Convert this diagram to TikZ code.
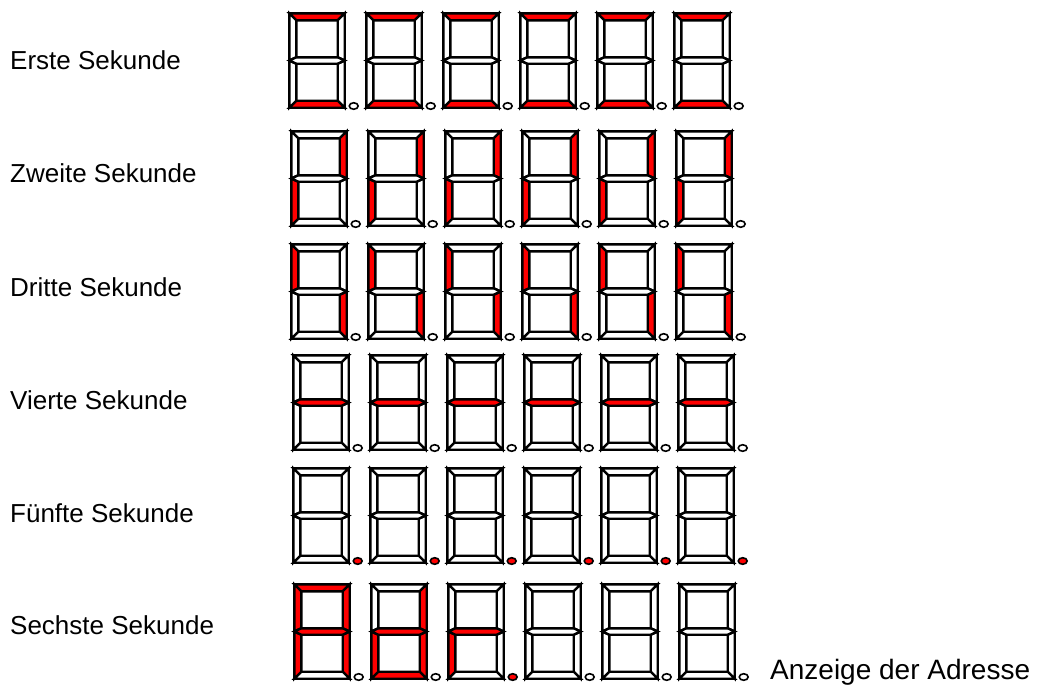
\documentclass[tikz,border=0pt]{standalone}
\usepackage{fontspec}
\setmainfont{Liberation Sans}
\tikzset{
  seg/.style={draw=black,line width=2.4pt,line join=miter,fill=white},
  dotseg/.style={draw=black,line width=1.6pt,fill=white},
  lbl/.style={anchor=base west,inner sep=0pt,font=\fontsize{26}{30}\selectfont},
  biglbl/.style={anchor=base west,inner sep=0pt,font=\fontsize{28}{32}\selectfont}
}
% #1..#7 = fill of segments a b c d e f g, #8 = fill of decimal point
\newcommand\segdigit[8]{%
  \filldraw[seg,fill=#1] (1.3,1.3)--(56.7,1.3)--(49.7,8.3)--(8.3,8.3)--cycle;
  \filldraw[seg,fill=#2] (56.7,1.3)--(56.7,48.5)--(49.7,45.3)--(49.7,8.3)--cycle;
  \filldraw[seg,fill=#3] (56.7,48.5)--(56.7,95.7)--(49.7,88.7)--(49.7,51.7)--cycle;
  \filldraw[seg,fill=#4] (1.3,95.7)--(56.7,95.7)--(49.7,88.7)--(8.3,88.7)--cycle;
  \filldraw[seg,fill=#5] (1.3,48.5)--(1.3,95.7)--(8.3,88.7)--(8.3,51.7)--cycle;
  \filldraw[seg,fill=#6] (1.3,1.3)--(1.3,48.5)--(8.3,45.3)--(8.3,8.3)--cycle;
  \filldraw[seg,fill=#7] (1.3,48.5)--(8.3,45.3)--(49.7,45.3)--(56.7,48.5)--(49.7,51.7)--(8.3,51.7)--cycle;
  \filldraw[dotseg,fill=#8] (65.7,94) ellipse [x radius=4.45pt, y radius=3.25pt];
}
\begin{document}
\begin{tikzpicture}[x=1pt,y=-1pt]
\useasboundingbox (0,0) rectangle (1042,686);
% labels
\node[lbl] (l1) at (10,69) {Erste Sekunde};
\node[lbl] (l2) at (10,182) {Zweite Sekunde};
\node[lbl] (l3) at (10,296) {Dritte Sekunde};
\node[lbl] (l4) at (10,409) {Vierte Sekunde};
\node[lbl] (l5) at (10,522) {Fünfte Sekunde};
\node[lbl] (l6) at (10,634) {Sechste Sekunde};
\node[biglbl] (adr) at (770,679) {Anzeige der Adresse};
% row 1: top and bottom
\foreach \i in {0,...,5}{
  \begin{scope}[shift={(288+77*\i,12)}]
    \segdigit{red}{white}{white}{red}{white}{white}{white}{white}
  \end{scope}}
% row 2: b and e
\foreach \i in {0,...,5}{
  \begin{scope}[shift={(290+77*\i,130)}]
    \segdigit{white}{red}{white}{white}{red}{white}{white}{white}
  \end{scope}}
% row 3: c and f
\foreach \i in {0,...,5}{
  \begin{scope}[shift={(290+77*\i,243)}]
    \segdigit{white}{white}{red}{white}{white}{red}{white}{white}
  \end{scope}}
% row 4: g
\foreach \i in {0,...,5}{
  \begin{scope}[shift={(292+77*\i,354)}]
    \segdigit{white}{white}{white}{white}{white}{white}{red}{white}
  \end{scope}}
% row 5: decimal points
\foreach \i in {0,...,5}{
  \begin{scope}[shift={(292+77*\i,467)}]
    \segdigit{white}{white}{white}{white}{white}{white}{white}{red}
  \end{scope}}
% row 6: A d r . and blanks
\begin{scope}[shift={(293,583)}]
  \segdigit{red}{red}{red}{white}{red}{red}{red}{white}
\end{scope}
\begin{scope}[shift={(370,583)}]
  \segdigit{white}{red}{red}{red}{red}{white}{red}{white}
\end{scope}
\begin{scope}[shift={(447,583)}]
  \segdigit{white}{white}{white}{white}{red}{white}{red}{red}
\end{scope}
\foreach \i in {3,4,5}{
  \begin{scope}[shift={(293+77*\i,583)}]
    \segdigit{white}{white}{white}{white}{white}{white}{white}{white}
  \end{scope}}
\end{tikzpicture}
\end{document}
